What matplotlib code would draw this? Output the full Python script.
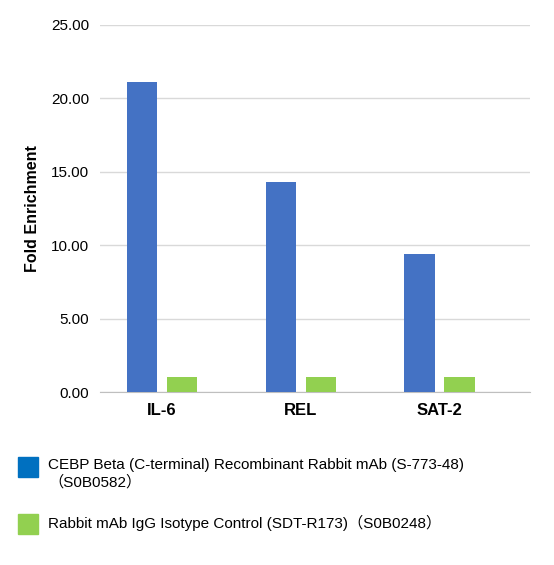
import matplotlib
matplotlib.use("Agg")
import matplotlib.pyplot as plt
from matplotlib.patches import Rectangle
import numpy as np

plt.rcParams['font.family'] = ['Liberation Sans', 'Noto Sans CJK SC', 'DejaVu Sans']

categories = ["IL-6", "REL", "SAT-2"]
cebp = [21.1, 14.3, 9.4]
igg = [1.0, 1.0, 1.0]
yticks = [0, 5, 10, 15, 20, 25]
labels = ["CEBP Beta (C-terminal) Recombinant Rabbit mAb (S-773-48)\n（S0B0582）",
          "Rabbit mAb IgG Isotype Control (SDT-R173)（S0B0248）"]

fig = plt.figure(figsize=(5.54, 5.65), dpi=100)
ax = fig.add_axes([100/554, 0.306, 430/554, 0.65])
x = np.arange(len(categories))
w = 0.22
ax.bar(x - 0.144, cebp, w, color="#4472C4", zorder=3)
ax.bar(x + 0.144, igg, w, color="#92D050", zorder=3)
ax.set_xlim(-0.446, 2.65)
ax.set_ylim(0, 25)
ax.set_yticks(yticks)
ax.set_yticklabels([f"{v:.2f}" for v in yticks], fontsize=11)
ax.set_xticks(x)
ax.set_xticklabels(categories, fontsize=12, fontweight="bold")
ax.grid(axis="y", color="#D9D9D9", linewidth=1, zorder=0)
for s in ["top", "right", "left"]:
    ax.spines[s].set_visible(False)
ax.spines["bottom"].set_color("#BFBFBF")
ax.tick_params(length=0, pad=8)
ax.set_ylabel("Fold Enrichment", fontsize=11.5, fontweight="bold", labelpad=8)

colors = ["#0070C0", "#92D050"]
ys = [1 - 467/565, 1 - 524/565]
for c, y, t in zip(colors, ys, labels):
    fig.patches.append(Rectangle((18/554, y - 10/565), 20/554, 20/565,
                                 transform=fig.transFigure, color=c))
    fig.text(48/554, y + 9/565, t, fontsize=11, va="top", ha="left", linespacing=1.3)

fig.savefig("out.png", dpi=100)
